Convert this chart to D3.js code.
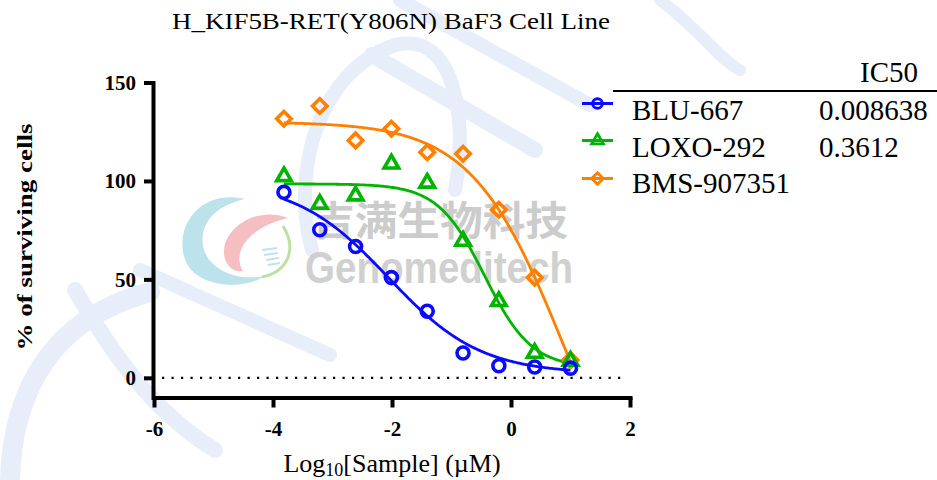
<!DOCTYPE html>
<html><head><meta charset="utf-8">
<script src="https://cdn.jsdelivr.net/npm/d3@7"></script>
<style>
body{margin:0;background:#fff;} svg{display:block}
.serif{font-family:"Liberation Serif","Times New Roman",serif;}
</style>
</head><body><svg id="c" width="937" height="480"></svg>
<script>
// ---------- data ----------
const logConc = [-3.816, -3.214, -2.612, -2.010, -1.408, -0.806, -0.204, 0.398, 1.0];
const seriesNames = ["BLU-667", "LOXO-292", "BMS-907351"];
const bluValues  = [94.2, 75.2, 66.7, 50.9, 33.8, 12.6, 6.1, 5.5, 4.9];
const loxoValues = [102.3, 88.3, 92.5, 108.7, 99.0, 69.5, 38.9, 12.6, 8.5];
const bmsValues  = [131.6, 138.1, 120.6, 126.5, 114.6, 113.8, 85.4, 50.9, 9.0];
const ic50Labels = ["0.008638", "0.3612", ""];
// 4-parameter logistic fit parameters (top, bottom, logIC50, hill) per series
const fitTop     = [100, 98.5, 130];
const fitBottom  = [2, 5, -100];
const fitLogIC50 = [-2.064, -0.442, 0.905];
const fitHill    = [0.56, 1.1, 0.557];
const xTicks = [-6, -4, -2, 0, 2];
const yTicks = [0, 50, 100, 150];
const titleText = "H_KIF5B-RET(Y806N) BaF3 Cell Line";
const yLabelText = "% of surviving cells";

// ---------- style ----------
const colors = ["#0a0aff", "#00b400", "#ff8000"];

const svg = d3.select("#c");
const x = d3.scaleLinear().domain([-6, 2]).range([154, 630]);
const y = d3.scaleLinear().domain([-10, 150]).range([397.5, 82.5]);

// ---------- watermark ----------
const wm = svg.append("g").attr("fill", "none").attr("stroke", "#e8eef9").attr("stroke-linecap", "round");
[
  {d: "M 10 480 C 12 400, 45 320, 150 292", w: 20},
  {d: "M 75 290 C 110 350, 150 410, 215 450", w: 16},
  {d: "M 312 250 C 290 170, 320 70, 395 45 C 450 30, 470 110, 455 190", w: 14},
  {d: "M 372 55 L 535 150", w: 16},
  {d: "M 400 0 L 590 105", w: 14},
  {d: "M 140 270 L 330 355", w: 14},
  {d: "M 660 0 C 700 30, 720 60, 740 70", w: 12}
].forEach(p => wm.append("path").attr("d", p.d).attr("stroke-width", p.w));

// logo
const logo = svg.append("g");
logo.append("path")
  .attr("d", "M 245 199 C 200 188, 172 228, 186 262 C 197 286, 240 292, 265 276 C 228 283, 198 262, 203 234 C 207 212, 228 203, 245 199 Z")
  .attr("fill", "#a6d9e6").attr("opacity", 0.75);
logo.append("path")
  .attr("d", "M 288 218 C 258 206, 226 226, 224 250 C 223 263, 232 273, 243 271 C 232 254, 246 228, 288 218 Z")
  .attr("fill", "#f1a4a8").attr("opacity", 0.7);
logo.append("path")
  .attr("d", "M 283 226 C 298 250, 287 272, 262 277")
  .attr("fill", "none").attr("stroke", "#bfe0a4").attr("stroke-width", 3);
[0, 1, 2, 3].forEach(i => logo.append("line")
  .attr("x1", 262 + i * 2).attr("y1", 250 + i * 5).attr("x2", 277 + i * 1).attr("y2", 248 + i * 5)
  .attr("stroke", "#bfe3ec").attr("stroke-width", 2));

svg.append("text").text("吉满生物科技")
  .attr("x", 312).attr("y", 235)
  .attr("textLength", 256).attr("lengthAdjust", "spacingAndGlyphs")
  .style("font-family", "'Noto Sans CJK SC',sans-serif").attr("font-weight", "bold")
  .attr("font-size", 40).attr("fill", "#c4c4c4").attr("opacity", 0.85);
svg.append("text").text("Genomeditech")
  .attr("x", 305).attr("y", 283)
  .attr("textLength", 268).attr("lengthAdjust", "spacingAndGlyphs")
  .style("font-family", "'Liberation Sans',Arial,sans-serif").attr("font-weight", "bold")
  .attr("font-size", 45).attr("fill", "#c8c8c8").attr("opacity", 0.85);

// ---------- title ----------
svg.append("text").attr("class", "serif").text(titleText)
  .attr("x", 172).attr("y", 28.5)
  .attr("textLength", 438).attr("lengthAdjust", "spacingAndGlyphs")
  .attr("font-size", 23).attr("fill", "#000");

// ---------- axes ----------
const yAxis = svg.append("g").attr("transform", "translate(153,0)")
  .call(d3.axisLeft(y).tickValues(yTicks).tickSize(9).tickSizeOuter(0).tickPadding(8));
const xAxis = svg.append("g").attr("transform", "translate(0,397.5)")
  .call(d3.axisBottom(x).tickValues(xTicks).tickSize(10).tickSizeOuter(0).tickPadding(14)
    .tickFormat(d3.format("d")));
[yAxis, xAxis].forEach(a => {
  a.attr("font-family", null).attr("font-size", null);
  a.select(".domain").attr("stroke", "#000").attr("stroke-width", 4).attr("stroke-linecap", "square");
  a.selectAll(".tick line").attr("stroke", "#000").attr("stroke-width", 4);
  a.selectAll(".tick text").attr("class", "serif").attr("font-weight", "bold")
    .attr("font-size", 21).attr("fill", "#000");
});
xAxis.selectAll(".tick text").text(d => d < 0 ? "-" + Math.abs(d) : d);

// zero dotted line
svg.append("line")
  .attr("x1", 162).attr("x2", 626).attr("y1", y(0)).attr("y2", y(0))
  .attr("stroke", "#000").attr("stroke-width", 2.2).attr("stroke-dasharray", "2.2 7.3");

// axis labels
svg.append("text").attr("class", "serif")
  .attr("transform", "translate(32,237) rotate(-90)")
  .attr("text-anchor", "middle")
  .attr("textLength", 227).attr("lengthAdjust", "spacingAndGlyphs")
  .attr("font-weight", "bold").attr("font-size", 22)
  .text(yLabelText);

const xl = svg.append("text").attr("class", "serif").attr("x", 392).attr("y", 471.5).attr("text-anchor", "middle")
  .attr("font-size", 26);
xl.append("tspan").text("Log");
xl.append("tspan").attr("dy", 4.5).attr("font-size", 18).text("10");
xl.append("tspan").attr("dy", -4.5).text("[Sample] (µM)");

// ---------- fitted curves ----------
const allValues = [bluValues, loxoValues, bmsValues];
const xmin = d3.min(logConc), xmax = d3.max(logConc);
const fitX = d3.range(0, 201).map(i => xmin + (xmax - xmin) * i / 200);
const model = (k, xv) => fitBottom[k] + (fitTop[k] - fitBottom[k]) / (1 + Math.pow(10, (xv - fitLogIC50[k]) * fitHill[k]));
const line = d3.line().x(d => x(d[0])).y(d => y(d[1]));
seriesNames.forEach((n, k) => {
  svg.append("path").datum(fitX.map(xv => [xv, model(k, xv)]))
    .attr("d", line).attr("fill", "none").attr("stroke", colors[k]).attr("stroke-width", 2.8);
});

// ---------- markers ----------
function marker(g, k, cx, cy, scale) {
  const sw = 3.6 * scale;
  if (k === 0) {
    g.append("circle").attr("cx", cx).attr("cy", cy).attr("r", 6 * scale)
      .attr("fill", "none").attr("stroke", colors[k]).attr("stroke-width", sw);
  } else if (k === 1) {
    g.append("path").attr("d", d3.symbol().type(d3.symbolTriangle).size(92 * scale * scale)())
      .attr("transform", `translate(${cx},${cy})`)
      .attr("fill", "none").attr("stroke", colors[k]).attr("stroke-width", sw);
  } else {
    g.append("path").attr("d", d3.symbol().type(d3.symbolSquare).size(105 * scale * scale)())
      .attr("transform", `translate(${cx},${cy}) rotate(45)`)
      .attr("fill", "none").attr("stroke", colors[k]).attr("stroke-width", sw);
  }
}
const mg = svg.append("g");
[2, 1, 0].forEach(k => {
  allValues[k].forEach((v, i) => marker(mg, k, x(logConc[i]), y(v), 1));
});

// ---------- legend ----------
const lg = svg.append("g");
lg.append("line").attr("x1", 613).attr("x2", 937).attr("y1", 91).attr("y2", 91)
  .attr("stroke", "#000").attr("stroke-width", 2.2);
lg.append("text").attr("class", "serif").text("IC50").attr("x", 918).attr("y", 82).attr("text-anchor", "end")
  .attr("font-size", 29);
const rowBase = [120, 157, 193];
const rowMark = [103.5, 140.5, 178.5];
seriesNames.forEach((n, k) => {
  lg.append("line").attr("x1", 582).attr("x2", 613).attr("y1", rowMark[k]).attr("y2", rowMark[k])
    .attr("stroke", colors[k]).attr("stroke-width", 3);
  marker(lg, k, 597.5, rowMark[k], 0.8);
  lg.append("text").attr("class", "serif").text(n).attr("x", 632).attr("y", rowBase[k])
    .attr("font-size", 29);
  lg.append("text").attr("class", "serif").text(ic50Labels[k]).attr("x", 819).attr("y", rowBase[k])
    .attr("font-size", 29);
});
</script>
</body></html>
